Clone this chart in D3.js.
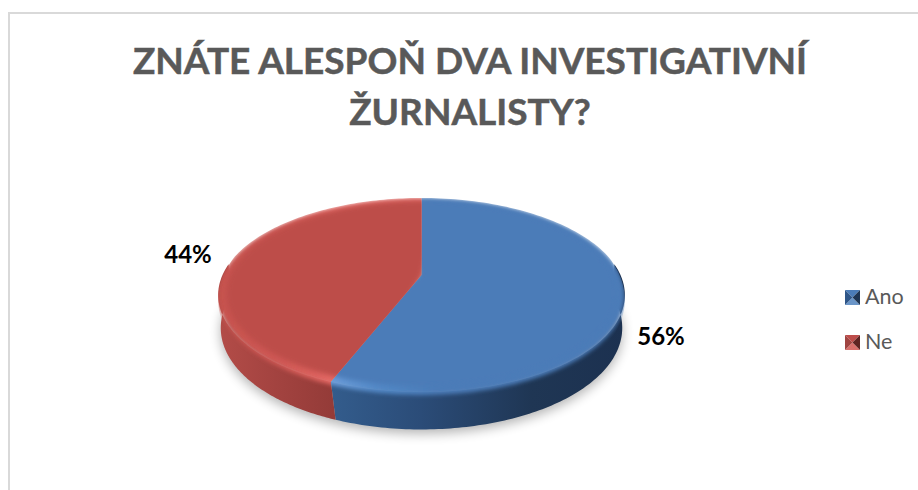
<!DOCTYPE html>
<html><head><meta charset="utf-8">
<script src="https://cdn.jsdelivr.net/npm/d3@7"></script>
<style>html,body{margin:0;padding:0;background:#fff}svg{display:block}</style>
</head><body><svg id="c" width="918" height="490"></svg>
<script>
const categories = ["Ano", "Ne"];
const values = [56, 44];
const labels = ["56%", "44%"];
const titleLines = ["ZNÁTE ALESPOŇ DVA INVESTIGATIVNÍ", "ŽURNALISTY?"];

const svg = d3.select("#c");
const defs = svg.append("defs");
const W = 918, H = 490;
const cx = 421.5, apexY = 275, R = 199, B = 92.9, k = 0.206;

function proj(theta, r = 1, dz = 0) {
  const x = r * Math.sin(theta), u = -r * Math.cos(theta), s = 1 / (1 - k * u);
  return [cx + R * x * s, apexY + B * u * s + dz];
}
// lower edge of the wall: further from the viewer, so slightly smaller
function lower(theta, extra = 0) {
  const f = Math.max(0, -Math.cos(theta));
  return proj(theta, 0.995 - 0.04 * f, 36 + 8 * f + extra);
}
const pie = d3.pie().sort(null).value(d => d);
const arcs = pie(values);
const line = d3.line();
const steps = (a, b) => d3.range(0, 121).map(i => a + (b - a) * i / 120);

function lin(id, stops, attrs) {
  const g = defs.append("linearGradient").attr("id", id).attr("gradientUnits", "userSpaceOnUse");
  Object.entries(attrs).forEach(([a, v]) => g.attr(a, v));
  stops.forEach(([o, c]) => g.append("stop").attr("offset", o).attr("stop-color", c));
}
lin("sideB", [[0, "#335c8c"], [0.3, "#2b4c78"], [0.68, "#1f3654"], [1, "#1c3150"]], {x1: 333, x2: 625, y1: 0, y2: 0});
lin("sideR", [[0, "#b34c48"], [0.5, "#a34340"], [1, "#943b38"]], {x1: 218, x2: 333, y1: 0, y2: 0});
lin("rimB", [[0, "#6a9bd8"], [0.15, "#5288c6"], [0.35, "#4b7cb8"], [1, "#4b7cb8"]], {x1: 333, x2: 625, y1: 0, y2: 0});
lin("rimR", [[0, "#c6524e"], [0.55, "#cf5854"], [0.85, "#dc615d"], [1, "#e56a66"]], {x1: 218, x2: 333, y1: 0, y2: 0});

const blur = (id, sd) => defs.append("filter").attr("id", id)
  .attr("x", "-15%").attr("y", "-25%").attr("width", "130%").attr("height", "150%")
  .append("feGaussianBlur").attr("stdDeviation", sd);
blur("blurS", 6); blur("blurR", 2); blur("blurI", 2.4);

// frame
svg.append("path").attr("d", `M9,${H}V13H${W}`).attr("fill", "none").attr("stroke", "#d9d9d9").attr("stroke-width", 2);

// title
svg.append("g").selectAll("text").data(titleLines).join("text")
  .attr("x", 470).attr("y", (d, i) => 73.5 + i * 51)
  .attr("text-anchor", "middle").attr("font-family", "Lato, 'Open Sans', sans-serif")
  .attr("font-weight", 700).attr("font-size", 37).attr("fill", "#595959")
  .attr("stroke", "#595959").attr("stroke-width", 0.5).text(d => d);

// ground shadow
const full = steps(0, 2 * Math.PI);
svg.append("path").attr("d", line(full.map(t => lower(t, 4))) + "Z")
  .attr("fill", "#000").attr("opacity", 0.3).attr("filter", "url(#blurS)");

const classes = ["B", "R"];
// wall of each slice, visible along the front of the disc
arcs.forEach((a, i) => {
  const lo = Math.max(a.startAngle, Math.PI / 2 - 0.12), hi = Math.min(a.endAngle, 3 * Math.PI / 2 + 0.12);
  const t = steps(lo, hi);
  const pts = t.map(v => proj(v)).concat(t.slice().reverse().map(v => lower(v)));
  svg.append("path").attr("d", line(pts) + "Z").attr("fill", `url(#side${classes[i]})`);
});

// top surface: soft rim band, then flat face, each clipped to its slice
const topColors = ["#4b7cb8", "#bd4d4a"];
const rim = svg.append("g");
arcs.forEach((a, i) => {
  const t = steps(a.startAngle, a.endAngle);
  const band = v => proj(v, 1, 12 * Math.max(0, -Math.cos(v) + 0.2));
  const clip = [[cx, apexY], proj(a.startAngle)].concat(t.map(band), [proj(a.endAngle)]);
  defs.append("clipPath").attr("id", "slice" + i).append("path").attr("d", line(clip) + "Z");
  const g = rim.append("g").attr("clip-path", `url(#slice${i})`);
  const wide = steps(a.startAngle - 0.1, a.endAngle + 0.1);
  g.append("path").attr("d", line([[cx, apexY]].concat(wide.map(v => proj(v, 1, 3 * Math.max(0, -Math.cos(v)))))) + "Z")
    .attr("fill", `url(#rim${classes[i]})`).attr("filter", "url(#blurR)");
  g.append("path").attr("d", line([[cx, apexY]].concat(wide.map(v => proj(v, 0.96)))) + "Z")
    .attr("fill", topColors[i]).attr("filter", "url(#blurI)");
});

// data labels
const labelPos = [[661, 345], [188, 263]];
svg.append("g").selectAll("text").data(labels).join("text")
  .attr("x", (d, i) => labelPos[i][0]).attr("y", (d, i) => labelPos[i][1])
  .attr("text-anchor", "middle").attr("font-family", "Lato, sans-serif").attr("font-weight", 700)
  .attr("font-size", 24).attr("fill", "#000").text(d => d);

// legend
const lg = svg.append("g");
const markerShades = [
  {top: "#4b7cb8", bottom: "#6a95c8", left: "#2f5688", right: "#1f3654"},
  {top: "#bd4d4a", bottom: "#d8706c", left: "#a04441", right: "#5e2422"}
];
categories.forEach((c, i) => {
  const x = 845, y = 290 + i * 45, s = 15, m = markerShades[i];
  const g = lg.append("g").attr("transform", `translate(${x},${y})`);
  g.append("path").attr("d", `M0,0L${s},0L${s/2},${s/2}Z`).attr("fill", m.top);
  g.append("path").attr("d", `M0,${s}L${s},${s}L${s/2},${s/2}Z`).attr("fill", m.bottom);
  g.append("path").attr("d", `M0,0L0,${s}L${s/2},${s/2}Z`).attr("fill", m.left);
  g.append("path").attr("d", `M${s},0L${s},${s}L${s/2},${s/2}Z`).attr("fill", m.right);
  lg.append("text").attr("x", 865).attr("y", y + 14).attr("font-family", "Lato, sans-serif")
    .attr("font-size", 21.5).attr("fill", "#595959").text(c);
});
</script></body></html>
